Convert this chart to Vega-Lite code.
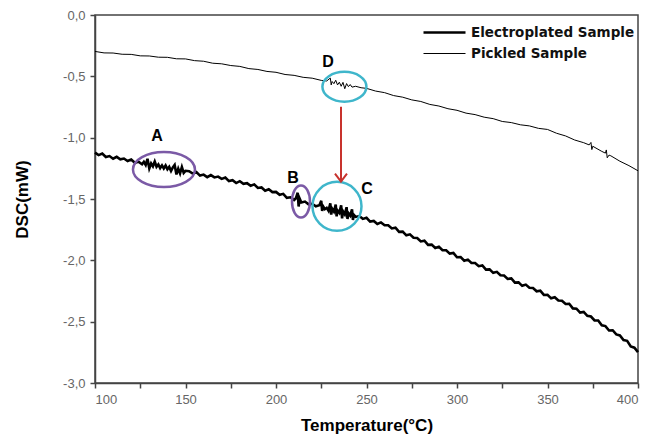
{
  "$schema": "https://vega.github.io/schema/vega-lite/v6.json",
  "width": 543,
  "height": 368,
  "autosize": "none",
  "padding": {"left": 95, "top": 15, "right": 27, "bottom": 57},
  "background": "white",
  "config": {
    "view": {"stroke": "#444", "strokeWidth": 1.5},
    "font": "Liberation Sans"
  },
  "layer": [
    {
      "data": {"values": [
        {"s":"Electroplated Sample","t":100,"v":-1.122},{"s":"Electroplated Sample","t":102,"v":-1.142},{"s":"Electroplated Sample","t":104,"v":-1.130},{"s":"Electroplated Sample","t":106,"v":-1.158},{"s":"Electroplated Sample","t":108,"v":-1.150},{"s":"Electroplated Sample","t":110,"v":-1.172},{"s":"Electroplated Sample","t":112,"v":-1.156},{"s":"Electroplated Sample","t":114,"v":-1.176},{"s":"Electroplated Sample","t":116,"v":-1.170},{"s":"Electroplated Sample","t":118,"v":-1.190},{"s":"Electroplated Sample","t":120,"v":-1.178},{"s":"Electroplated Sample","t":122,"v":-1.205},{"s":"Electroplated Sample","t":124,"v":-1.196},{"s":"Electroplated Sample","t":126,"v":-1.217},
        {"s":"Electroplated Sample","t":127,"v":-1.197},{"s":"Electroplated Sample","t":128,"v":-1.222},{"s":"Electroplated Sample","t":129,"v":-1.172},{"s":"Electroplated Sample","t":130,"v":-1.250},{"s":"Electroplated Sample","t":131,"v":-1.210},{"s":"Electroplated Sample","t":132,"v":-1.233},{"s":"Electroplated Sample","t":133,"v":-1.194},{"s":"Electroplated Sample","t":134,"v":-1.237},{"s":"Electroplated Sample","t":135,"v":-1.218},{"s":"Electroplated Sample","t":136,"v":-1.248},{"s":"Electroplated Sample","t":137,"v":-1.226},{"s":"Electroplated Sample","t":138,"v":-1.251},{"s":"Electroplated Sample","t":139,"v":-1.227},{"s":"Electroplated Sample","t":140,"v":-1.257},{"s":"Electroplated Sample","t":141,"v":-1.238},{"s":"Electroplated Sample","t":142,"v":-1.271},{"s":"Electroplated Sample","t":143,"v":-1.242},{"s":"Electroplated Sample","t":144,"v":-1.222},{"s":"Electroplated Sample","t":145,"v":-1.300},{"s":"Electroplated Sample","t":146,"v":-1.253},{"s":"Electroplated Sample","t":147,"v":-1.291},{"s":"Electroplated Sample","t":148,"v":-1.239},{"s":"Electroplated Sample","t":149,"v":-1.287},{"s":"Electroplated Sample","t":150,"v":-1.270},
        {"s":"Electroplated Sample","t":152,"v":-1.273},{"s":"Electroplated Sample","t":154,"v":-1.293},{"s":"Electroplated Sample","t":156,"v":-1.281},{"s":"Electroplated Sample","t":158,"v":-1.309},{"s":"Electroplated Sample","t":160,"v":-1.301},{"s":"Electroplated Sample","t":162,"v":-1.322},{"s":"Electroplated Sample","t":164,"v":-1.305},{"s":"Electroplated Sample","t":166,"v":-1.324},{"s":"Electroplated Sample","t":168,"v":-1.317},{"s":"Electroplated Sample","t":170,"v":-1.336},{"s":"Electroplated Sample","t":172,"v":-1.325},{"s":"Electroplated Sample","t":174,"v":-1.354},{"s":"Electroplated Sample","t":176,"v":-1.347},{"s":"Electroplated Sample","t":178,"v":-1.370},{"s":"Electroplated Sample","t":180,"v":-1.355},{"s":"Electroplated Sample","t":182,"v":-1.376},{"s":"Electroplated Sample","t":184,"v":-1.371},{"s":"Electroplated Sample","t":186,"v":-1.392},{"s":"Electroplated Sample","t":188,"v":-1.381},{"s":"Electroplated Sample","t":190,"v":-1.410},{"s":"Electroplated Sample","t":192,"v":-1.406},{"s":"Electroplated Sample","t":194,"v":-1.432},{"s":"Electroplated Sample","t":196,"v":-1.420},{"s":"Electroplated Sample","t":198,"v":-1.444},{"s":"Electroplated Sample","t":200,"v":-1.442},{"s":"Electroplated Sample","t":202,"v":-1.466},{"s":"Electroplated Sample","t":204,"v":-1.458},{"s":"Electroplated Sample","t":206,"v":-1.490},{"s":"Electroplated Sample","t":208,"v":-1.486},{"s":"Electroplated Sample","t":210,"v":-1.508},
        {"s":"Electroplated Sample","t":211,"v":-1.494},{"s":"Electroplated Sample","t":212,"v":-1.449},{"s":"Electroplated Sample","t":212.5,"v":-1.561},{"s":"Electroplated Sample","t":213,"v":-1.494},{"s":"Electroplated Sample","t":214,"v":-1.528},{"s":"Electroplated Sample","t":216,"v":-1.521},{"s":"Electroplated Sample","t":218,"v":-1.544},{"s":"Electroplated Sample","t":220,"v":-1.539},{"s":"Electroplated Sample","t":222,"v":-1.559},
        {"s":"Electroplated Sample","t":224,"v":-1.551},{"s":"Electroplated Sample","t":225,"v":-1.515},{"s":"Electroplated Sample","t":225.5,"v":-1.597},{"s":"Electroplated Sample","t":226,"v":-1.559},{"s":"Electroplated Sample","t":227,"v":-1.583},{"s":"Electroplated Sample","t":228,"v":-1.572},{"s":"Electroplated Sample","t":229,"v":-1.596},{"s":"Electroplated Sample","t":230,"v":-1.535},{"s":"Electroplated Sample","t":230.5,"v":-1.627},{"s":"Electroplated Sample","t":231,"v":-1.579},{"s":"Electroplated Sample","t":232,"v":-1.602},{"s":"Electroplated Sample","t":233,"v":-1.546},{"s":"Electroplated Sample","t":233.5,"v":-1.642},{"s":"Electroplated Sample","t":234,"v":-1.594},{"s":"Electroplated Sample","t":235,"v":-1.613},{"s":"Electroplated Sample","t":236,"v":-1.551},{"s":"Electroplated Sample","t":236.5,"v":-1.658},{"s":"Electroplated Sample","t":237,"v":-1.600},{"s":"Electroplated Sample","t":238,"v":-1.625},{"s":"Electroplated Sample","t":239,"v":-1.567},{"s":"Electroplated Sample","t":239.5,"v":-1.663},{"s":"Electroplated Sample","t":240,"v":-1.615},{"s":"Electroplated Sample","t":241,"v":-1.635},{"s":"Electroplated Sample","t":242,"v":-1.584},{"s":"Electroplated Sample","t":242.5,"v":-1.671},{"s":"Electroplated Sample","t":243,"v":-1.629},{"s":"Electroplated Sample","t":244,"v":-1.646},
        {"s":"Electroplated Sample","t":246,"v":-1.639},{"s":"Electroplated Sample","t":248,"v":-1.662},{"s":"Electroplated Sample","t":250,"v":-1.653},{"s":"Electroplated Sample","t":252,"v":-1.684},{"s":"Electroplated Sample","t":254,"v":-1.679},{"s":"Electroplated Sample","t":256,"v":-1.704},{"s":"Electroplated Sample","t":258,"v":-1.691},{"s":"Electroplated Sample","t":260,"v":-1.714},{"s":"Electroplated Sample","t":262,"v":-1.714},{"s":"Electroplated Sample","t":264,"v":-1.740},{"s":"Electroplated Sample","t":266,"v":-1.734},{"s":"Electroplated Sample","t":268,"v":-1.768},{"s":"Electroplated Sample","t":270,"v":-1.766},{"s":"Electroplated Sample","t":272,"v":-1.796},{"s":"Electroplated Sample","t":274,"v":-1.788},{"s":"Electroplated Sample","t":276,"v":-1.816},{"s":"Electroplated Sample","t":278,"v":-1.818},{"s":"Electroplated Sample","t":280,"v":-1.846},{"s":"Electroplated Sample","t":282,"v":-1.840},{"s":"Electroplated Sample","t":284,"v":-1.874},{"s":"Electroplated Sample","t":286,"v":-1.872},{"s":"Electroplated Sample","t":288,"v":-1.900},{"s":"Electroplated Sample","t":290,"v":-1.890},{"s":"Electroplated Sample","t":292,"v":-1.917},{"s":"Electroplated Sample","t":294,"v":-1.918},{"s":"Electroplated Sample","t":296,"v":-1.945},{"s":"Electroplated Sample","t":298,"v":-1.940},{"s":"Electroplated Sample","t":300,"v":-1.975},{"s":"Electroplated Sample","t":302,"v":-1.974},{"s":"Electroplated Sample","t":304,"v":-2.003},{"s":"Electroplated Sample","t":306,"v":-1.994},{"s":"Electroplated Sample","t":308,"v":-2.021},{"s":"Electroplated Sample","t":310,"v":-2.022},{"s":"Electroplated Sample","t":312,"v":-2.048},{"s":"Electroplated Sample","t":314,"v":-2.042},{"s":"Electroplated Sample","t":316,"v":-2.076},{"s":"Electroplated Sample","t":318,"v":-2.074},{"s":"Electroplated Sample","t":320,"v":-2.102},{"s":"Electroplated Sample","t":322,"v":-2.094},{"s":"Electroplated Sample","t":324,"v":-2.122},{"s":"Electroplated Sample","t":326,"v":-2.124},{"s":"Electroplated Sample","t":328,"v":-2.152},{"s":"Electroplated Sample","t":330,"v":-2.148},{"s":"Electroplated Sample","t":332,"v":-2.182},{"s":"Electroplated Sample","t":334,"v":-2.180},{"s":"Electroplated Sample","t":336,"v":-2.208},{"s":"Electroplated Sample","t":338,"v":-2.198},{"s":"Electroplated Sample","t":340,"v":-2.224},{"s":"Electroplated Sample","t":342,"v":-2.225},{"s":"Electroplated Sample","t":344,"v":-2.252},{"s":"Electroplated Sample","t":346,"v":-2.247},{"s":"Electroplated Sample","t":348,"v":-2.282},{"s":"Electroplated Sample","t":350,"v":-2.281},{"s":"Electroplated Sample","t":352,"v":-2.310},{"s":"Electroplated Sample","t":354,"v":-2.301},{"s":"Electroplated Sample","t":356,"v":-2.328},{"s":"Electroplated Sample","t":358,"v":-2.329},{"s":"Electroplated Sample","t":360,"v":-2.356},{"s":"Electroplated Sample","t":362,"v":-2.354},{"s":"Electroplated Sample","t":364,"v":-2.392},{"s":"Electroplated Sample","t":366,"v":-2.394},{"s":"Electroplated Sample","t":368,"v":-2.426},{"s":"Electroplated Sample","t":370,"v":-2.420},{"s":"Electroplated Sample","t":372,"v":-2.452},{"s":"Electroplated Sample","t":374,"v":-2.458},{"s":"Electroplated Sample","t":376,"v":-2.490},{"s":"Electroplated Sample","t":378,"v":-2.490},{"s":"Electroplated Sample","t":380,"v":-2.530},{"s":"Electroplated Sample","t":382,"v":-2.536},{"s":"Electroplated Sample","t":384,"v":-2.572},{"s":"Electroplated Sample","t":386,"v":-2.570},{"s":"Electroplated Sample","t":388,"v":-2.604},{"s":"Electroplated Sample","t":390,"v":-2.612},{"s":"Electroplated Sample","t":392,"v":-2.650},{"s":"Electroplated Sample","t":394,"v":-2.656},{"s":"Electroplated Sample","t":396,"v":-2.702},{"s":"Electroplated Sample","t":398,"v":-2.712},{"s":"Electroplated Sample","t":400,"v":-2.748},
        {"s":"Pickled Sample","t":100,"v":-0.297},{"s":"Pickled Sample","t":105,"v":-0.309},{"s":"Pickled Sample","t":110,"v":-0.310},{"s":"Pickled Sample","t":115,"v":-0.320},{"s":"Pickled Sample","t":120,"v":-0.321},{"s":"Pickled Sample","t":125,"v":-0.333},{"s":"Pickled Sample","t":130,"v":-0.334},{"s":"Pickled Sample","t":135,"v":-0.344},{"s":"Pickled Sample","t":140,"v":-0.345},{"s":"Pickled Sample","t":145,"v":-0.357},{"s":"Pickled Sample","t":150,"v":-0.358},{"s":"Pickled Sample","t":155,"v":-0.372},{"s":"Pickled Sample","t":160,"v":-0.377},{"s":"Pickled Sample","t":165,"v":-0.393},{"s":"Pickled Sample","t":170,"v":-0.398},{"s":"Pickled Sample","t":175,"v":-0.412},{"s":"Pickled Sample","t":180,"v":-0.419},{"s":"Pickled Sample","t":185,"v":-0.437},{"s":"Pickled Sample","t":190,"v":-0.444},{"s":"Pickled Sample","t":195,"v":-0.460},{"s":"Pickled Sample","t":200,"v":-0.467},{"s":"Pickled Sample","t":205,"v":-0.485},{"s":"Pickled Sample","t":210,"v":-0.492},{"s":"Pickled Sample","t":215,"v":-0.508},{"s":"Pickled Sample","t":220,"v":-0.515},{"s":"Pickled Sample","t":225,"v":-0.533},{"s":"Pickled Sample","t":228,"v":-0.538},
        {"s":"Pickled Sample","t":230,"v":-0.514},{"s":"Pickled Sample","t":230.5,"v":-0.570},{"s":"Pickled Sample","t":231,"v":-0.542},{"s":"Pickled Sample","t":232,"v":-0.560},{"s":"Pickled Sample","t":233,"v":-0.532},{"s":"Pickled Sample","t":234,"v":-0.570},{"s":"Pickled Sample","t":235,"v":-0.548},{"s":"Pickled Sample","t":236,"v":-0.581},{"s":"Pickled Sample","t":237,"v":-0.549},{"s":"Pickled Sample","t":238,"v":-0.601},{"s":"Pickled Sample","t":239,"v":-0.559},{"s":"Pickled Sample","t":240,"v":-0.584},{"s":"Pickled Sample","t":241,"v":-0.567},{"s":"Pickled Sample","t":242,"v":-0.588},{"s":"Pickled Sample","t":244,"v":-0.581},
        {"s":"Pickled Sample","t":247,"v":-0.593},{"s":"Pickled Sample","t":250,"v":-0.598},{"s":"Pickled Sample","t":255,"v":-0.620},{"s":"Pickled Sample","t":260,"v":-0.633},{"s":"Pickled Sample","t":265,"v":-0.657},{"s":"Pickled Sample","t":270,"v":-0.670},{"s":"Pickled Sample","t":275,"v":-0.692},{"s":"Pickled Sample","t":280,"v":-0.705},{"s":"Pickled Sample","t":285,"v":-0.729},{"s":"Pickled Sample","t":290,"v":-0.742},{"s":"Pickled Sample","t":295,"v":-0.764},{"s":"Pickled Sample","t":300,"v":-0.777},{"s":"Pickled Sample","t":305,"v":-0.800},{"s":"Pickled Sample","t":310,"v":-0.812},{"s":"Pickled Sample","t":315,"v":-0.833},{"s":"Pickled Sample","t":320,"v":-0.845},{"s":"Pickled Sample","t":325,"v":-0.868},{"s":"Pickled Sample","t":330,"v":-0.877},{"s":"Pickled Sample","t":335,"v":-0.895},{"s":"Pickled Sample","t":340,"v":-0.904},{"s":"Pickled Sample","t":345,"v":-0.924},{"s":"Pickled Sample","t":350,"v":-0.933},{"s":"Pickled Sample","t":355,"v":-0.964},{"s":"Pickled Sample","t":360,"v":-0.986},{"s":"Pickled Sample","t":365,"v":-1.019},{"s":"Pickled Sample","t":370,"v":-1.041},{"s":"Pickled Sample","t":373,"v":-1.059},{"s":"Pickled Sample","t":374,"v":-1.039},{"s":"Pickled Sample","t":374.5,"v":-1.097},{"s":"Pickled Sample","t":375,"v":-1.070},{"s":"Pickled Sample","t":380,"v":-1.112},{"s":"Pickled Sample","t":382,"v":-1.126},{"s":"Pickled Sample","t":382.5,"v":-1.100},{"s":"Pickled Sample","t":383,"v":-1.164},{"s":"Pickled Sample","t":384,"v":-1.142},{"s":"Pickled Sample","t":385,"v":-1.148},{"s":"Pickled Sample","t":390,"v":-1.192},{"s":"Pickled Sample","t":395,"v":-1.228},{"s":"Pickled Sample","t":400,"v":-1.270}
      ]},
      "mark": {"type": "line", "color": "black", "strokeJoin": "miter"},
      "encoding": {
        "x": {
          "field": "t", "type": "quantitative",
          "scale": {"domain": [100, 400], "nice": false, "zero": false},
          "axis": {
            "title": "Temperature(°C)",
            "values": [100,125,150,175,200,225,250,275,300,325,350,375,400],
            "labelExpr": "datum.value % 50 == 0 ? datum.label : ''",
            "grid": false, "ticks": true,
            "domainColor": "#444", "domainWidth": 1.5,
            "tickColor": "#444", "tickWidth": 1.5, "tickSize": 5,
            "labelColor": "#666", "labelFontSize": 13, "labelPadding": 5, "labelFont": "Liberation Sans",
            "titleFont": "Liberation Sans", "titleFontSize": 17, "titleFontWeight": "bold", "titleColor": "black", "titlePadding": 11
          }
        },
        "y": {
          "field": "v", "type": "quantitative",
          "scale": {"domain": [-3, 0], "nice": false, "zero": false},
          "axis": {
            "title": "DSC(mW)",
            "values": [-3,-2.75,-2.5,-2.25,-2,-1.75,-1.5,-1.25,-1,-0.75,-0.5,-0.25,0],
            "labelExpr": "abs(datum.value*2 - round(datum.value*2)) < 0.01 ? replace(replace(format(datum.value, '.1f'), '.', ','), '\u2212', '-') : ''",
            "grid": false, "ticks": true,
            "domainColor": "#444", "domainWidth": 1.5,
            "tickColor": "#444", "tickWidth": 1.5, "tickSize": 5,
            "labelColor": "#666", "labelFontSize": 13, "labelPadding": 5, "labelFont": "Liberation Sans",
            "titleFont": "Liberation Sans", "titleFontSize": 17, "titleFontWeight": "bold", "titleColor": "black", "titlePadding": 31
          }
        },
        "detail": {"field": "s"},
        "strokeWidth": {
          "field": "s", "type": "ordinal",
          "scale": {"domain": ["Electroplated Sample", "Pickled Sample"], "range": [2.6, 1.0]},
          "legend": {
            "title": null, "orient": "none", "legendX": 327, "legendY": 7,
            "symbolType": "stroke", "symbolSize": 1764, "symbolStrokeColor": "black",
            "labelFont": "DejaVu Sans", "labelFontWeight": "bold", "labelFontSize": 13.5, "labelColor": "#111",
            "labelOffset": 4, "rowPadding": 0, "clipHeight": 21, "labelLimit": 300
          }
        }
      }
    },
    {
      "data": {"values": [{"t": 138.1, "v": -1.26}]},
      "mark": {"type": "point", "shape": "M-1,0A1,0.565 0 1,1 1,0A1,0.565 0 1,1 -1,0", "size": 3844, "filled": false, "stroke": "#7b5aa6", "strokeWidth": 2.5, "opacity": 1},
      "encoding": {"x": {"field": "t", "type": "quantitative"}, "y": {"field": "v", "type": "quantitative"}}
    },
    {
      "data": {"values": [{"t": 213.8, "v": -1.52}]},
      "mark": {"type": "point", "shape": "M0,-1A0.5625,1 0 1,1 0,1A0.5625,1 0 1,1 0,-1", "size": 1024, "filled": false, "stroke": "#7b5aa6", "strokeWidth": 2.5, "opacity": 1},
      "encoding": {"x": {"field": "t", "type": "quantitative"}, "y": {"field": "v", "type": "quantitative"}}
    },
    {
      "data": {"values": [{"t": 233.7, "v": -1.56}]},
      "mark": {"type": "point", "shape": "circle", "size": 2401, "filled": false, "stroke": "#3fb6cb", "strokeWidth": 2.5, "opacity": 1},
      "encoding": {"x": {"field": "t", "type": "quantitative"}, "y": {"field": "v", "type": "quantitative"}}
    },
    {
      "data": {"values": [{"t": 237.8, "v": -0.585}]},
      "mark": {"type": "point", "shape": "M-1,0A1,0.68 0 1,1 1,0A1,0.68 0 1,1 -1,0", "size": 1936, "filled": false, "stroke": "#3fb6cb", "strokeWidth": 2.5, "opacity": 1},
      "encoding": {"x": {"field": "t", "type": "quantitative"}, "y": {"field": "v", "type": "quantitative"}}
    },
    {
      "data": {"values": [{"t": 235.9, "v": -0.748, "v2": -1.35}]},
      "mark": {"type": "rule", "color": "#c8322d", "strokeWidth": 2},
      "encoding": {"x": {"field": "t", "type": "quantitative"}, "y": {"field": "v", "type": "quantitative"}, "y2": {"field": "v2"}}
    },
    {
      "data": {"values": [{"t": 235.9, "v": -1.358}]},
      "mark": {"type": "point", "shape": "M-0.75,-1L0,0L0.75,-1", "size": 256, "filled": false, "stroke": "#c8322d", "strokeWidth": 2, "opacity": 1},
      "encoding": {"x": {"field": "t", "type": "quantitative"}, "y": {"field": "v", "type": "quantitative"}}
    },
    {
      "data": {"values": [
        {"label": "A", "t": 134.3, "v": -0.99},
        {"label": "B", "t": 209.4, "v": -1.325},
        {"label": "C", "t": 250.3, "v": -1.42},
        {"label": "D", "t": 228.7, "v": -0.382}
      ]},
      "mark": {"type": "text", "font": "Liberation Sans", "fontWeight": "bold", "fontSize": 16, "color": "black", "align": "center", "baseline": "middle"},
      "encoding": {"x": {"field": "t", "type": "quantitative"}, "y": {"field": "v", "type": "quantitative"}, "text": {"field": "label"}}
    }
  ]
}
